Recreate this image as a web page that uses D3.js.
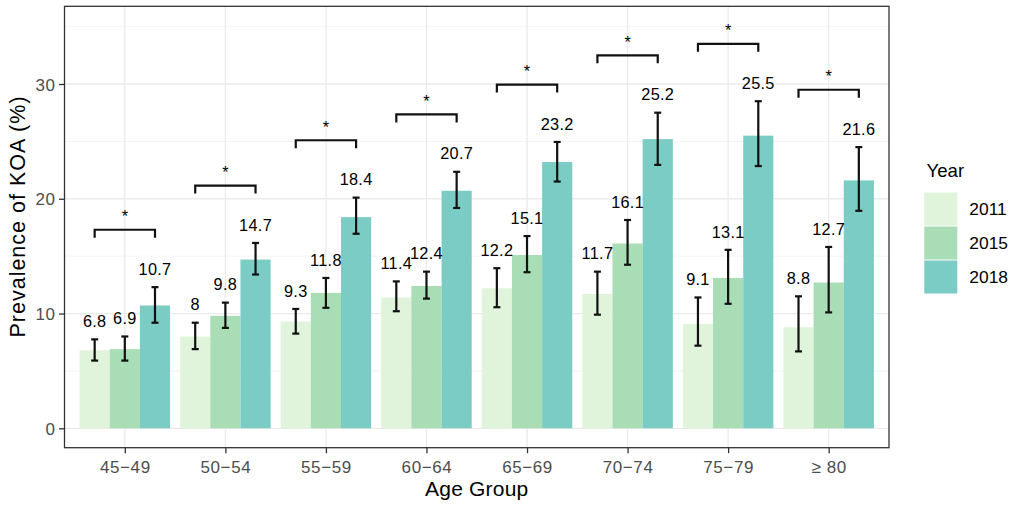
<!DOCTYPE html>
<html>
<head>
<meta charset="utf-8">
<script src="https://cdn.jsdelivr.net/npm/d3@7"></script>
<style>
  html, body { margin: 0; padding: 0; background: #fff; }
  svg { display: block; font-family: "Liberation Sans", Arial, Helvetica, sans-serif; }
</style>
</head>
<body>
<svg id="chart" width="1013" height="506"></svg>
<script>
// ---- data ----
const ageGroups = ["45\u221249", "50\u221254", "55\u221259", "60\u221264", "65\u221269", "70\u221274", "75\u221279", "\u2265 80"];
const years = ["2011", "2015", "2018"];
const prev2011 = [6.8, 8, 9.3, 11.4, 12.2, 11.7, 9.1, 8.8];
const prev2015 = [6.9, 9.8, 11.8, 12.4, 15.1, 16.1, 13.1, 12.7];
const prev2018 = [10.7, 14.7, 18.4, 20.7, 23.2, 25.2, 25.5, 21.6];
const low2011 = [5.9, 6.9, 8.25, 10.2, 10.55, 9.9, 7.2, 6.7];
const high2011 = [7.75, 9.2, 10.4, 12.8, 13.95, 13.65, 11.4, 11.5];
const low2015 = [5.9, 8.75, 10.5, 11.3, 13.6, 14.25, 10.85, 10.1];
const high2015 = [8.0, 10.95, 13.1, 13.65, 16.75, 18.15, 15.55, 15.8];
const low2018 = [9.2, 13.4, 16.95, 19.2, 21.5, 22.95, 22.85, 18.95];
const high2018 = [12.3, 16.15, 20.1, 22.35, 24.95, 27.5, 28.5, 24.5];
const bracketY = [17.3, 21.15, 25.1, 27.35, 29.95, 32.5, 33.5, 29.5];
const sigLabels = ["*", "*", "*", "*", "*", "*", "*", "*"];
const yTicks = [0, 10, 20, 30];
const yMinorTicks = [5, 15, 25, 35];
const colors = ["#e0f3db", "#a8ddb5", "#7bccc4"];

// ---- build series ----
const seriesVals = [prev2011, prev2015, prev2018];
const seriesLow = [low2011, low2015, low2018];
const seriesHigh = [high2011, high2015, high2018];
const rows = [];
ageGroups.forEach((g, i) => {
  years.forEach((yr, j) => {
    rows.push({ group: g, year: yr, value: seriesVals[j][i], low: seriesLow[j][i], high: seriesHigh[j][i], gi: i });
  });
});

const svg = d3.select("#chart");
const panel = { left: 64.5, right: 889, top: 6.3, bottom: 447.7 };

// scales: ggplot discrete expansion 0.6 units each side, dodge width 0.9
const unit = (panel.right - panel.left) / (ageGroups.length - 1 + 1.2);
const xc = d3.scalePoint().domain(ageGroups).range([panel.left + 0.6 * unit, panel.right - 0.6 * unit]);
const xInner = d3.scaleBand().domain(years).range([-0.45 * unit, 0.45 * unit]).padding(0);
const y = d3.scaleLinear().domain([-1.69, 36.77]).range([panel.bottom, panel.top]);

// grid
const g = svg.append("g");
g.selectAll("line.ymin").data(yMinorTicks).join("line")
  .attr("x1", panel.left).attr("x2", panel.right)
  .attr("y1", d => y(d)).attr("y2", d => y(d))
  .attr("stroke", "#f0f0f0").attr("stroke-width", 0.8);
g.selectAll("line.ymaj").data(yTicks).join("line")
  .attr("x1", panel.left).attr("x2", panel.right)
  .attr("y1", d => y(d)).attr("y2", d => y(d))
  .attr("stroke", "#ebebeb").attr("stroke-width", 1.3);
g.selectAll("line.xmaj").data(ageGroups).join("line")
  .attr("x1", d => xc(d)).attr("x2", d => xc(d))
  .attr("y1", panel.top).attr("y2", panel.bottom)
  .attr("stroke", "#ebebeb").attr("stroke-width", 1.3);

// bars
svg.append("g").selectAll("rect").data(rows).join("rect")
  .attr("x", d => xc(d.group) + xInner(d.year))
  .attr("width", xInner.bandwidth())
  .attr("y", d => y(d.value))
  .attr("height", d => y(0) - y(d.value))
  .attr("fill", d => colors[years.indexOf(d.year)]);

// error bars
const eb = svg.append("g").attr("stroke", "#111").attr("stroke-width", 2.2);
rows.forEach(d => {
  const cx = xc(d.group) + xInner(d.year) + xInner.bandwidth() / 2;
  eb.append("line").attr("x1", cx).attr("x2", cx).attr("y1", y(d.low)).attr("y2", y(d.high));
  eb.append("line").attr("x1", cx - 3.5).attr("x2", cx + 3.5).attr("y1", y(d.low)).attr("y2", y(d.low));
  eb.append("line").attr("x1", cx - 3.5).attr("x2", cx + 3.5).attr("y1", y(d.high)).attr("y2", y(d.high));
});

// value labels
svg.append("g").selectAll("text").data(rows).join("text")
  .attr("x", d => xc(d.group) + xInner(d.year) + xInner.bandwidth() / 2)
  .attr("y", d => y(d.high) - 12.3)
  .attr("text-anchor", "middle")
  .attr("font-size", 16.3)
  .attr("letter-spacing", 0.3)
  .attr("fill", "#000")
  .text(d => String(d.value));

// significance brackets
const br = svg.append("g");
ageGroups.forEach((grp, i) => {
  const x1 = xc(grp) + xInner("2011") + xInner.bandwidth() / 2;
  const x2 = xc(grp) + xInner("2018") + xInner.bandwidth() / 2;
  const yy = y(bracketY[i]);
  br.append("path")
    .attr("d", `M${x1},${yy + 8} L${x1},${yy} L${x2},${yy} L${x2},${yy + 8}`)
    .attr("fill", "none").attr("stroke", "#111").attr("stroke-width", 2.2);
  br.append("text")
    .attr("x", (x1 + x2) / 2).attr("y", yy - 7.6)
    .attr("text-anchor", "middle").attr("font-size", 16.3)
    .attr("fill", "#000")
    .text(sigLabels[i]);
});

// panel border
svg.append("rect")
  .attr("x", panel.left).attr("y", panel.top)
  .attr("width", panel.right - panel.left).attr("height", panel.bottom - panel.top)
  .attr("fill", "none").attr("stroke", "#333").attr("stroke-width", 1.3);

// axes
const yAxis = svg.append("g").attr("transform", `translate(${panel.left},0)`)
  .call(d3.axisLeft(y).tickValues(yTicks).tickSize(5.5).tickPadding(4));
const xAxis = svg.append("g").attr("transform", `translate(0,${panel.bottom})`)
  .call(d3.axisBottom(xc).tickSize(5.5).tickPadding(4));
[yAxis, xAxis].forEach(a => {
  a.select(".domain").remove();
  a.selectAll(".tick line").attr("stroke", "#333").attr("stroke-width", 1.3);
  a.selectAll(".tick text").attr("fill", "#4d4d4d").attr("font-size", 17)
    .attr("letter-spacing", 0.6)
    .attr("font-family", "'Liberation Sans', Arial, sans-serif");
});
yAxis.selectAll(".tick text").attr("dy", "0.36em").attr("x", -9);
xAxis.selectAll(".tick text").attr("dy", 0).attr("y", 25);

// axis titles
svg.append("text")
  .attr("x", (panel.left + panel.right) / 2).attr("y", 496)
  .attr("text-anchor", "middle").attr("font-size", 21).attr("letter-spacing", 0.2).attr("fill", "#000")
  .text("Age Group");
svg.append("text")
  .attr("transform", `translate(25,216.5) rotate(-90)`)
  .attr("text-anchor", "middle").attr("font-size", 21.5).attr("letter-spacing", 1).attr("fill", "#000")
  .text("Prevalence of KOA (%)");

// legend
const lg = svg.append("g");
lg.append("text").attr("x", 926.5).attr("y", 177.3).attr("font-size", 18.6).attr("fill", "#000").text("Year");
years.forEach((yr, j) => {
  const top = 192.5 + j * 34;
  lg.append("rect").attr("x", 924.3).attr("y", top).attr("width", 33).attr("height", 33)
    .attr("fill", colors[j]);
  lg.append("text").attr("x", 969.3).attr("y", top + 16.5).attr("dy", "0.36em")
    .attr("font-size", 17.4).attr("fill", "#000").text(yr);
});
</script>
</body>
</html>
